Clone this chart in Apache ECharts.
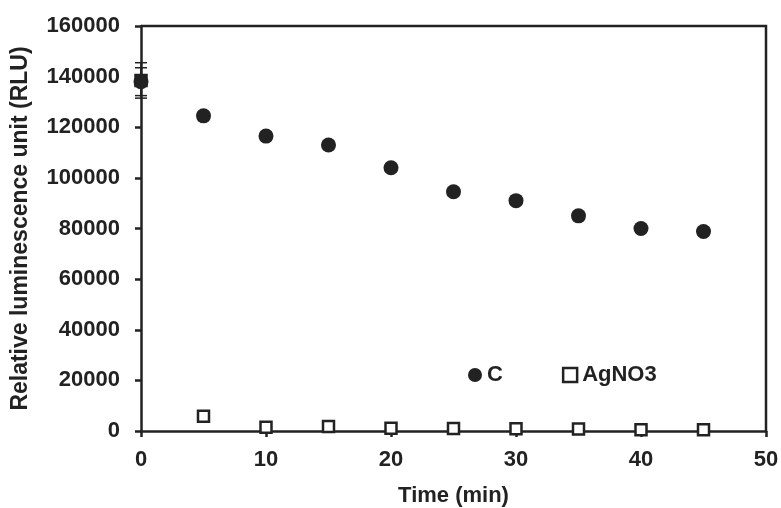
<!DOCTYPE html>
<html>
<head>
<meta charset="utf-8">
<script src="https://cdn.jsdelivr.net/npm/echarts@6/dist/echarts.min.js"></script>
<style>
  html, body { margin: 0; padding: 0; background: #fff; }
  #chart { width: 781px; height: 508px; }
</style>
</head>
<body>
<div id="chart"></div>
<script>
// 时间点 (min)
const times = [0, 5, 10, 15, 20, 25, 30, 35, 40, 45];
// 对照组 C
const valuesC = [138000, 124500, 116500, 113000, 104000, 94500, 91000, 85000, 80000, 78800];
const errorsC = [5500, 1500, 1500, 1500, 1500, 1500, 1500, 1500, 1500, 1500];
// AgNO3 组
const valuesAg = [138500, 5800, 1500, 1800, 1100, 1000, 900, 800, 500, 500];
const errorsAg = [7000, 600, 600, 600, 600, 600, 600, 600, 600, 600];
// 坐标轴刻度
const xTicks = [0, 10, 20, 30, 40, 50];
const yTicks = [0, 20000, 40000, 60000, 80000, 100000, 120000, 140000, 160000];

const ink = '#222';
const font = 'Liberation Sans, Arial, sans-serif';

// 组装误差棒数据 [x, low, high]
function errData(vals, errs) {
    return times.map((t, i) => [t, vals[i] - errs[i], vals[i] + errs[i]]);
}

function renderErr(params, api) {
    const x = api.value(0);
    const lo = api.coord([x, api.value(1)]);
    const hi = api.coord([x, api.value(2)]);
    const w = 6;
    const style = { stroke: ink, lineWidth: 1.5 };
    return {
        type: 'group',
        children: [
            { type: 'line', shape: { x1: lo[0], y1: lo[1], x2: hi[0], y2: hi[1] }, style: style },
            { type: 'line', shape: { x1: lo[0] - w, y1: lo[1], x2: lo[0] + w, y2: lo[1] }, style: style },
            { type: 'line', shape: { x1: hi[0] - w, y1: hi[1], x2: hi[0] + w, y2: hi[1] }, style: style }
        ]
    };
}

const chart = echarts.init(document.getElementById('chart'));

const option = {
    animation: false,
    backgroundColor: '#fff',
    grid: { left: 141, top: 26, right: 15, bottom: 77, outerBoundsMode: 'none', containLabel: false },
    legend: {
        left: 463,
        top: 359,
        itemGap: 59,
        itemWidth: 14,
        itemHeight: 14,
        textStyle: { fontFamily: font, fontWeight: 'bold', fontSize: 22, color: ink },
        data: [
            { name: 'C', icon: 'circle', itemStyle: { color: ink, opacity: 1 } },
            { name: 'AgNO3', icon: 'rect', itemStyle: { color: '#fff', borderColor: ink, borderWidth: 2.5, opacity: 1 } }
        ]
    },
    xAxis: {
        type: 'value',
        min: 0,
        max: 50,
        interval: 10,
        name: 'Time (min)',
        nameLocation: 'middle',
        nameGap: 54,
        nameTextStyle: { fontFamily: font, fontWeight: 'bold', fontSize: 22, color: ink },
        axisLine: { show: true, onZero: false, lineStyle: { color: ink, width: 2.5 } },
        axisTick: { show: true, length: 6, lineStyle: { color: ink, width: 2.5 } },
        axisLabel: {
            fontFamily: font, fontWeight: 'bold', fontSize: 22, color: ink, margin: 18,
            formatter: v => xTicks.includes(v) ? String(v) : ''
        },
        splitLine: { show: false }
    },
    yAxis: {
        type: 'value',
        min: 0,
        max: 160000,
        interval: 20000,
        name: 'Relative luminescence unit (RLU)',
        nameLocation: 'middle',
        nameGap: 109,
        nameTextStyle: { fontFamily: font, fontWeight: 'bold', fontSize: 23, color: ink },
        axisLine: { show: true, lineStyle: { color: ink, width: 2.5 } },
        axisTick: { show: true, length: 6, lineStyle: { color: ink, width: 2.5 } },
        axisLabel: {
            fontFamily: font, fontWeight: 'bold', fontSize: 22, color: ink, margin: 21,
            formatter: v => yTicks.includes(v) ? String(v) : ''
        },
        splitLine: { show: false }
    },
    series: [
        {
            name: 'C',
            type: 'scatter',
            symbol: 'circle',
            symbolSize: 15,
            clip: false,
            itemStyle: { color: ink, opacity: 1 },
            data: times.map((t, i) => [t, valuesC[i]]),
            z: 3
        },
        {
            name: 'AgNO3',
            type: 'scatter',
            symbol: 'rect',
            symbolSize: 11,
            clip: false,
            itemStyle: { color: '#fff', borderColor: ink, borderWidth: 2.5, opacity: 1 },
            data: times.map((t, i) => [t, valuesAg[i]]),
            z: 2
        },
        {
            type: 'custom',
            renderItem: renderErr,
            clip: false,
            data: errData(valuesC, errorsC),
            z: 1
        },
        {
            type: 'custom',
            renderItem: renderErr,
            clip: false,
            data: errData(valuesAg, errorsAg),
            z: 1
        }
    ],
    graphic: [
        {
            // 顶部与右侧边框
            type: 'polyline',
            shape: { points: [[141, 26], [766, 26], [766, 431]] },
            style: { stroke: ink, lineWidth: 2.5, fill: null },
            silent: true
        }
    ]
};

chart.setOption(option);
</script>
</body>
</html>
